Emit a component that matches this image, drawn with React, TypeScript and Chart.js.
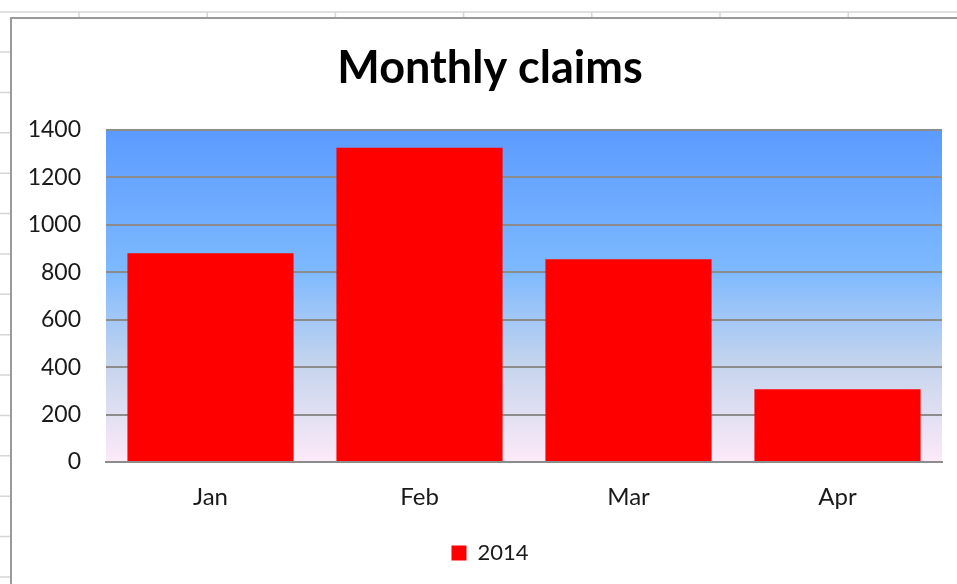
import React, { useEffect, useRef } from "react";
import { Chart, registerables } from "chart.js";

Chart.register(...registerables);

const categories = ["Jan", "Feb", "Mar", "Apr"];
const seriesLabel = "2014";
const claims2014 = [880, 1325, 855, 307];
const yTicks = [0, 200, 400, 600, 800, 1000, 1200, 1400];
const chartTitle = "Monthly claims";

const FONT = "Lato, 'Open Sans', sans-serif";
const CANVAS_W = 980;
const CANVAS_H = 584;

const sheetPlugin = {
  id: "sheetDecor",
  beforeDraw(chart: any) {
    const ctx = chart.ctx;
    const W = chart.width;
    const H = chart.height;
    ctx.save();
    ctx.fillStyle = "#ffffff";
    ctx.fillRect(0, 0, W, H);
    // spreadsheet grid remnants
    ctx.strokeStyle = "#d6d6d6";
    ctx.lineWidth = 1.5;
    ctx.beginPath();
    ctx.moveTo(0, 12);
    ctx.lineTo(W, 12);
    for (let x = 79; x < W; x += 128.2) {
      ctx.moveTo(x, 12);
      ctx.lineTo(x, 17);
    }
    for (let i = 0; i < 14; i++) {
      const y = 52 + i * 40.38;
      ctx.moveTo(0, y);
      ctx.lineTo(10, y);
    }
    ctx.stroke();
    // chart border
    ctx.strokeStyle = "#9a9a9a";
    ctx.lineWidth = 2;
    ctx.beginPath();
    ctx.moveTo(11, H + 5);
    ctx.lineTo(11, 18);
    ctx.lineTo(W + 5, 18);
    ctx.stroke();
    // plot area gradient
    const a = chart.chartArea;
    const g = ctx.createLinearGradient(0, a.top, 0, a.bottom);
    g.addColorStop(0, "#5c9bff");
    g.addColorStop(0.42, "#7db9ff");
    g.addColorStop(0.7, "#c3d4ed");
    g.addColorStop(1, "#fdeaf8");
    ctx.fillStyle = g;
    ctx.fillRect(a.left, a.top, a.right - a.left, a.bottom - a.top);
    ctx.restore();
  },
};

export default function App() {
  const ref = useRef<HTMLCanvasElement | null>(null);
  useEffect(() => {
    if (!ref.current) return;
    const chart = new Chart(ref.current, {
      type: "bar",
      data: {
        labels: categories,
        datasets: [
          {
            label: seriesLabel,
            data: claims2014,
            backgroundColor: "#ff0000",
            borderWidth: 0,
            barPercentage: 0.795,
            categoryPercentage: 1,
          },
        ],
      },
      plugins: [sheetPlugin],
      options: {
        responsive: false,
        animation: false,
        layout: { padding: { left: 0, right: 0, top: 0, bottom: 10 } },
        plugins: {
          title: {
            display: true,
            text: chartTitle,
            color: "#000000",
            font: { family: FONT, size: 45, weight: "bold", lineHeight: 1.2 },
            padding: { top: 41, bottom: 35 },
          },
          legend: {
            position: "bottom",
            labels: {
              color: "#1a1a1a",
              font: { family: FONT, size: 22 },
              boxWidth: 15,
              boxHeight: 15,
              padding: 10,
            },
          },
          tooltip: { enabled: false },
        },
        scales: {
          x: {
            grid: { display: false, drawTicks: false },
            border: { display: true, color: "#8c8c8c", width: 2 },
            ticks: { color: "#1a1a1a", font: { family: FONT, size: 24 }, padding: 21 },
            afterFit(scale: any) {
              scale.height = 70;
            },
          },
          y: {
            min: 0,
            max: 1400,
            afterBuildTicks(scale: any) {
              scale.ticks = yTicks.map((v) => ({ value: v }));
            },
            grid: { color: "#8c8c8c", lineWidth: 2, drawTicks: false },
            border: { display: false },
            ticks: {
              color: "#1a1a1a",
              font: { family: FONT, size: 23 },
              padding: 25,
              callback: (v: any) => String(v),
            },
            afterFit(scale: any) {
              scale.width = 106;
            },
          },
          yRightSpace: {
            position: "right",
            display: true,
            min: 0,
            max: 1400,
            grid: { display: false, drawTicks: false },
            border: { display: false },
            ticks: { display: false },
            afterFit(scale: any) {
              scale.width = CANVAS_W - 942;
            },
          },
        },
      },
    });
    return () => chart.destroy();
  }, []);
  return (
    <div style={{ position: "fixed", left: 0, top: 0, width: 957, height: 584, overflow: "hidden" }}>
      <canvas ref={ref} width={CANVAS_W} height={CANVAS_H} style={{ display: "block" }} />
    </div>
  );
}
